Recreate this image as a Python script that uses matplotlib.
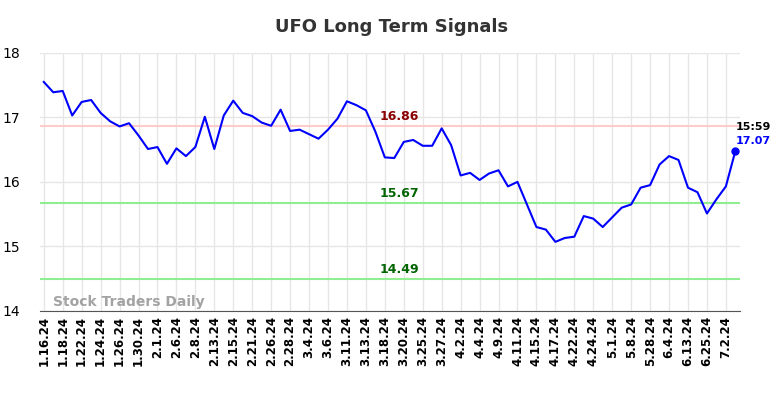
import matplotlib
matplotlib.use("Agg")
import matplotlib.pyplot as plt

title = "UFO Long Term Signals"
tick_labels = ["1.16.24", "1.18.24", "1.22.24", "1.24.24", "1.26.24", "1.30.24", "2.1.24", "2.6.24",
               "2.8.24", "2.13.24", "2.15.24", "2.21.24", "2.26.24", "2.28.24", "3.4.24", "3.6.24",
               "3.11.24", "3.13.24", "3.18.24", "3.20.24", "3.25.24", "3.27.24", "4.2.24", "4.4.24",
               "4.9.24", "4.11.24", "4.15.24", "4.17.24", "4.22.24", "4.24.24", "5.1.24", "5.8.24",
               "5.28.24", "6.4.24", "6.13.24", "6.25.24", "7.2.24"]
prices = [17.55, 17.39, 17.41, 17.03, 17.24, 17.27, 17.07, 16.94, 16.86, 16.91,
          16.72, 16.51, 16.54, 16.28, 16.52, 16.40, 16.54, 17.01, 16.51, 17.03,
          17.26, 17.07, 17.02, 16.92, 16.87, 17.12, 16.79, 16.81, 16.74, 16.67,
          16.81, 16.98, 17.25, 17.19, 17.11, 16.78, 16.38, 16.37, 16.62, 16.65,
          16.56, 16.56, 16.83, 16.57, 16.10, 16.14, 16.03, 16.13, 16.18, 15.93,
          16.00, 15.65, 15.30, 15.26, 15.07, 15.13, 15.15, 15.47, 15.43, 15.30,
          15.45, 15.60, 15.65, 15.91, 15.95, 16.27, 16.40, 16.34, 15.91, 15.84,
          15.51, 15.73, 15.93, 16.48]
resistance = [16.86]
supports = [15.67, 14.49]
last_time = "15:59"
last_label = "17.07"
watermark = "Stock Traders Daily"

fig = plt.figure(figsize=(7.84, 3.98), dpi=100)
ax = fig.add_axes([0.051, 0.219, 0.893, 0.648])

x = list(range(len(prices)))
ax.plot(x, prices, color="blue", lw=1.5, zorder=3)
ax.plot(x[-1], prices[-1], "o", color="blue", ms=5, zorder=4)

xmid = 37.5
for r in resistance:
    ax.axhline(r, color="#ffcccc", lw=1.5, zorder=2)
    ax.text(xmid, r + 0.05, f"{r:.2f}", color="darkred", fontsize=9, fontweight="bold",
            ha="center", va="bottom")
for s in supports:
    ax.axhline(s, color="#90ee90", lw=1.5, zorder=2)
    ax.text(xmid, s + 0.05, f"{s:.2f}", color="darkgreen", fontsize=9, fontweight="bold",
            ha="center", va="bottom")

ax.text(x[-1], 16.77, last_time, color="black", fontsize=8, fontweight="bold", ha="left", va="bottom")
ax.text(x[-1], 16.56, last_label, color="blue", fontsize=8, fontweight="bold", ha="left", va="bottom")

ax.text(1.0, 14.03, watermark, color="#999999", fontsize=10, fontweight="bold", ha="left", va="bottom", alpha=0.9)

ax.set_xlim(-0.4, len(prices) - 0.5)
ax.set_ylim(14, 18)
ax.set_yticks([14, 15, 16, 17, 18])
ax.set_xticks(list(range(0, len(prices), 2))[:len(tick_labels)])
ax.set_xticklabels(tick_labels, rotation=90, fontsize=8.5, fontweight="bold")
ax.tick_params(axis="both", length=0)
ax.tick_params(axis="y", labelsize=10, pad=14)
ax.grid(True, color="#e6e6e6", lw=1)
ax.set_axisbelow(True)
for side in ["left", "right", "top"]:
    ax.spines[side].set_visible(False)
ax.spines["bottom"].set_color("#555555")

fig.suptitle(title, fontsize=13, fontweight="bold", color="#333333", y=0.955)
fig.savefig("out.png", dpi=100)
